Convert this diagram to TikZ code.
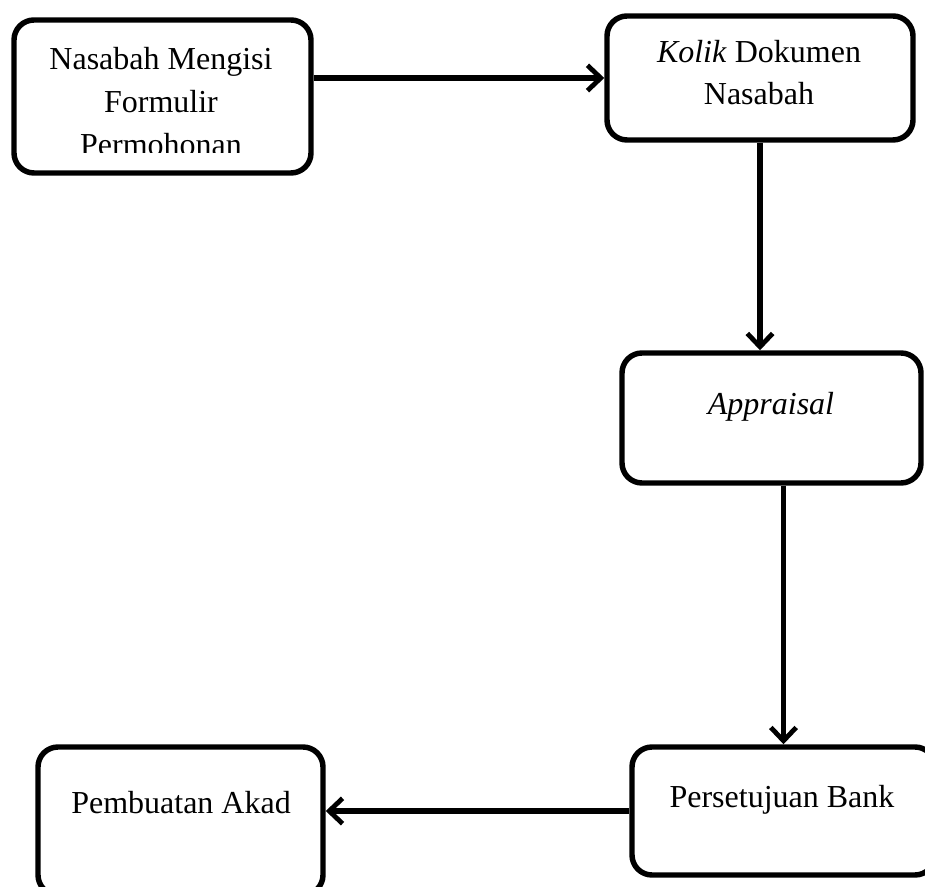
\documentclass[tikz,border=0pt]{standalone}
\usepackage{fontspec}
\setmainfont{Liberation Serif}
\usetikzlibrary{arrows.meta}
\begin{document}
\begin{tikzpicture}[x=0.75pt,y=-0.75pt,
  flowbox/.style={draw=black,line width=4.1pt,rounded corners=15pt,inner sep=0pt,fill=none},
  lbl/.style={anchor=base,inner sep=0pt,font=\fontsize{24}{28}\selectfont},
  arr/.style={draw=black,line width=3.9pt,-{Straight Barb[length=10pt,width=19pt,line width=3.6pt]}}]
\useasboundingbox (0,0) rectangle (925,887);
\clip (0,0) rectangle (925,887);
% boxes
\node[flowbox,minimum width=222.75pt,minimum height=114.75pt] (n1) at (162.5,96.5) {};
\node[flowbox,minimum width=229.5pt,minimum height=93pt] (n2) at (760,78) {};
\node[flowbox,minimum width=224.25pt,minimum height=97.5pt] (n3) at (771.5,418) {};
\node[flowbox,minimum width=227.25pt,minimum height=96pt] (n4) at (783.5,811) {};
\node[flowbox,minimum width=213.75pt,minimum height=111pt] (n5) at (180.5,821) {};
% texts
\node[lbl] (t1a) at (161,70) {Nasabah Mengisi};
\node[lbl] (t1b) at (161,113) {Formulir};
\begin{scope}
\clip (14,20) rectangle (311,153);
\node[lbl] (t1c) at (161,156) {Permohonan};
\end{scope}
\node[lbl] (t2a) at (759,63) {\textit{Kolik} Dokumen};
\node[lbl] (t2b) at (759,105) {Nasabah};
\node[lbl] (t3) at (771,415) {\textit{Appraisal}};
\node[lbl] (t4) at (782,807) {Persetujuan Bank};
\node[lbl] (t5) at (181,813) {Pembuatan Akad};
% connectors
\draw[arr] (n1.east |- n2.west) -- (n2.west);
\draw[arr] (n2.south) -- (n2.south |- n3.north);
\draw[arr] (n4.north |- n3.south) -- (n4.north);
\draw[arr] (n4.west) -- (n4.west -| n5.east);
\end{tikzpicture}
\end{document}
